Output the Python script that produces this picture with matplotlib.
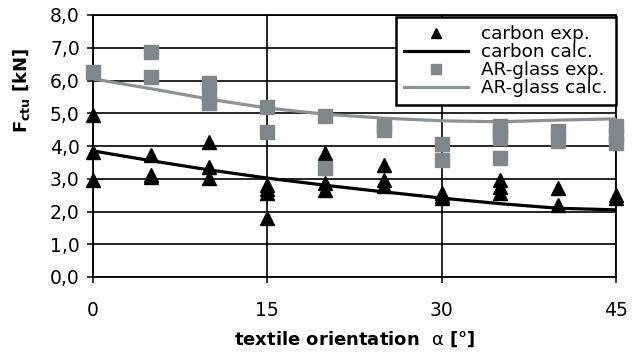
import numpy as np
import matplotlib
matplotlib.use("Agg")
import matplotlib.pyplot as plt

# Data
angles = [0, 5, 10, 15, 20, 25, 30, 35, 40, 45]

# experiments (several specimens per angle)
carbon_exp_x = [0, 0, 0, 5, 5, 5, 10, 10, 10, 15, 15, 15, 15, 20, 20, 20, 25, 25, 25,
                30, 30, 30, 35, 35, 35, 40, 40, 45, 45]
carbon_exp_y = [4.95, 3.83, 2.97, 3.73, 3.1, 3.05, 4.11, 3.37, 3.02, 2.8, 2.7, 2.56, 1.8,
                3.8, 2.87, 2.66, 3.43, 2.97, 2.78, 2.55, 2.48, 2.42, 2.95, 2.76, 2.58,
                2.71, 2.2, 2.5, 2.42]

glass_exp_x = [0, 5, 5, 10, 10, 10, 15, 15, 20, 20, 25, 25, 30, 30, 35, 35, 35, 35,
               40, 40, 45, 45, 45]
glass_exp_y = [6.26, 6.87, 6.1, 5.92, 5.6, 5.3, 5.19, 4.43, 4.93, 3.32, 4.6, 4.5, 4.06,
               3.58, 4.6, 4.42, 4.25, 3.63, 4.45, 4.15, 4.6, 4.35, 4.1]

# calculated curves
carbon_calc = [3.85, 3.55, 3.27, 3.02, 2.8, 2.6, 2.41, 2.24, 2.1, 2.05]
glass_calc = [6.05, 5.75, 5.43, 5.16, 4.97, 4.85, 4.77, 4.74, 4.79, 4.83]

y_ticks = np.arange(0, 8.01, 1.0)
x_ticks = [0, 15, 30, 45]

GRAY_MARK = "#7f878b"
GRAY_LINE = "#8c9396"

plt.rcParams["font.family"] = ["DejaVu Sans"]
plt.rcParams["mathtext.fontset"] = "dejavusans"

fig = plt.figure(figsize=(6.32, 3.53), dpi=100)
ax = fig.add_axes([93 / 632, 1 - 277 / 353, 523 / 632, 262 / 353])

ax.plot(carbon_exp_x, carbon_exp_y, linestyle="none", marker="^", markersize=10.5,
        color="black", clip_on=False, zorder=4, label="carbon exp.")
ax.plot(angles, carbon_calc, color="black", linewidth=2.3, zorder=3, label="carbon calc.")
ax.plot(glass_exp_x, glass_exp_y, linestyle="none", marker="s", markersize=9.5,
        color=GRAY_MARK, clip_on=False, zorder=4, label="AR-glass exp.")
ax.plot(angles, glass_calc, color=GRAY_LINE, linewidth=2.3, zorder=3, label="AR-glass calc.")

ax.set_xlim(0, 45)
ax.set_ylim(0, 8)
ax.set_xticks(x_ticks)
ax.set_yticks(y_ticks)
ax.set_yticklabels([f"{v:.1f}".replace(".", ",") for v in y_ticks])
ax.grid(True, color="black", linewidth=1.2)
ax.set_axisbelow(True)
for s in ax.spines.values():
    s.set_linewidth(1.3)
ax.tick_params(axis="y", direction="out", length=4, width=1.1, labelsize=13.5, pad=5.5)
ax.tick_params(axis="x", direction="out", length=4, width=1.1, labelsize=13.5, pad=13)

fig.text(355 / 632, 1 - 339 / 353, r"textile orientation  $\mathrm{\alpha}$ [°]",
         ha="center", va="center", fontsize=13, fontweight="bold")
fig.text(22 / 632, 1 - 90 / 353, r"$\mathbf{F_{ctu}}$ [kN]", rotation=90,
         ha="center", va="center", fontsize=13, fontweight="bold")

leg = ax.legend(loc="upper right", bbox_to_anchor=(1.0, 0.993), fontsize=13.2,
                frameon=True, fancybox=False, framealpha=1, edgecolor="black",
                labelspacing=0.0, handlelength=3.5, handletextpad=0.7,
                borderpad=0.45, borderaxespad=0.0, markerscale=0.75)
leg.get_frame().set_linewidth(1.8)
leg.set_zorder(6)

fig.savefig("out.png", dpi=100)
